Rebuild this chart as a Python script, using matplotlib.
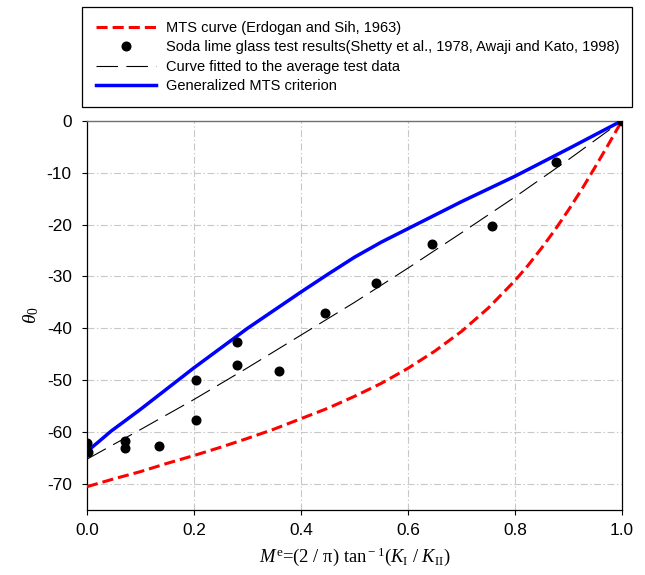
import numpy as np
import matplotlib
matplotlib.use("Agg")
import matplotlib.pyplot as plt

# Crack initiation angle theta_0 against mixed-mode parameter M^e

# MTS curve (Erdogan and Sih, 1963)
mts_me = [0.0, 0.05, 0.1, 0.15, 0.2, 0.25, 0.3, 0.35, 0.4, 0.45, 0.5, 0.55, 0.6,
          0.65, 0.7, 0.75, 0.8, 0.825, 0.85, 0.875, 0.9, 0.925, 0.95, 0.975, 1.0]
mts_theta = [-70.5, -69.0, -67.6, -66.0, -64.5, -62.9, -61.2, -59.4, -57.4, -55.4,
             -53.1, -50.6, -47.7, -44.4, -40.6, -36.1, -30.8, -27.8, -24.5, -21.0,
             -17.2, -13.2, -8.9, -4.5, 0.0]

# Soda lime glass test results
test_me = [0.0, 0.001, 0.071, 0.071, 0.135, 0.204, 0.204, 0.28, 0.28, 0.359,
           0.445, 0.541, 0.645, 0.757, 0.877, 1.0]
test_theta = [-62.0, -63.8, -61.7, -63.1, -62.6, -50.0, -57.6, -42.6, -47.1, -48.3,
              -37.0, -31.2, -23.8, -20.2, -7.9, 0.0]

# curve fitted to the average test data
fit_me = [0.0, 0.1, 0.2, 0.3, 0.4, 0.5, 0.6, 0.7, 0.8, 0.9, 1.0]
fit_theta = [-65.2, -59.5, -53.7, -47.6, -41.3, -35.0, -28.4, -21.6, -14.7, -7.5, 0.0]

# generalized MTS criterion
gmts_me = [0.0, 0.02, 0.045, 0.07, 0.1, 0.15, 0.2, 0.25, 0.3, 0.35, 0.4, 0.45, 0.5,
           0.55, 0.6, 0.7, 0.8, 0.9, 1.0]
gmts_theta = [-63.7, -62.0, -59.8, -57.9, -55.6, -51.6, -47.6, -43.8, -40.0, -36.5,
              -33.0, -29.6, -26.3, -23.4, -20.8, -15.6, -10.7, -5.4, 0.0]

xticks = [0.0, 0.2, 0.4, 0.6, 0.8, 1.0]
yticks = [0, -10, -20, -30, -40, -50, -60, -70]

plt.rcParams['font.family'] = ['Liberation Sans', 'DejaVu Sans']
plt.rcParams['mathtext.fontset'] = 'custom'
plt.rcParams['mathtext.rm'] = 'Liberation Serif'
plt.rcParams['mathtext.it'] = 'Liberation Serif:italic'
plt.rcParams['lines.scale_dashes'] = False
plt.rcParams['axes.unicode_minus'] = False

fig = plt.figure(figsize=(6.45, 5.75), dpi=100)
ax = fig.add_axes([0.1349, 0.1130, 0.8294, 0.6771])

ax.plot(mts_me, mts_theta, color='#ff0000', lw=2.2, dashes=(8, 3.6),
        label='MTS curve (Erdogan and Sih, 1963)', zorder=3)
ax.plot(test_me, test_theta, 'o', color='black', ms=6.2, mec='black',
        label='Soda lime glass test results(Shetty et al., 1978, Awaji and Kato, 1998)',
        zorder=6)
ax.plot(fit_me, fit_theta, color='black', lw=0.8, dashes=(15.5, 6),
        label='Curve fitted to the average test data', zorder=4)
ax.plot(gmts_me, gmts_theta, color='#0000ff', lw=2.5,
        label='Generalized MTS criterion', zorder=5)

ax.set_xlim(0, 1.0)
ax.set_ylim(-75, 0)
ax.set_xticks(xticks)
ax.set_xticklabels(['%.1f' % v for v in xticks])
ax.set_yticks(yticks)
ax.tick_params(axis='both', labelsize=12.4, direction='out', length=3.5, width=0.8,
               color='black')
ax.tick_params(axis='x', pad=6)
ax.tick_params(axis='y', pad=7.5)
ax.tick_params(top=False, right=False)

# dash-dot grid only at the inner ticks
for v in xticks[1:-1]:
    ax.axvline(v, color='#c8c8c8', lw=0.8, dashes=(5, 1.8, 1, 1.8), zorder=1)
for v in yticks[1:]:
    ax.axhline(v, color='#c8c8c8', lw=0.8, dashes=(5, 1.8, 1, 1.8), zorder=1)

for side in ['left', 'bottom', 'right']:
    ax.spines[side].set_color('black')
    ax.spines[side].set_linewidth(0.9)
ax.spines['top'].set_color('#707070')
ax.spines['top'].set_linewidth(1.0)

ax.set_xlabel(r'$M^{\rm e}$=(2 / π) tan$^{\rm -1}$($K_{\rm I}$ / $K_{\rm II}$)',
              family='Liberation Serif', fontsize=13.4, labelpad=5)
ax.set_ylabel(r'$\theta_0$', fontsize=14, labelpad=4)

leg = fig.legend(loc='upper left', bbox_to_anchor=(0.127, 0.816, 0.853, 0.172),
                 bbox_transform=fig.transFigure, mode='expand', fontsize=10.5,
                 frameon=True, fancybox=False, edgecolor='black', framealpha=1,
                 handlelength=4.1, handletextpad=0.68, labelspacing=0.37,
                 borderpad=0.97, borderaxespad=0, numpoints=1)
leg.get_frame().set_linewidth(0.9)

fig.savefig('out.png', dpi=100)
